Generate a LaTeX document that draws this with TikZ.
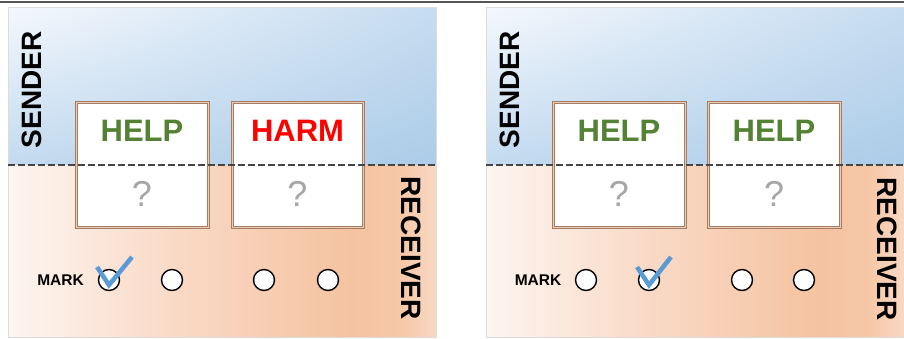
\documentclass[tikz,border=0pt]{standalone}
\usepackage{fontspec}
\setmainfont{Liberation Sans}
\usetikzlibrary{calc,shadings}
\definecolor{helpgreen}{HTML}{548235}
\definecolor{harmred}{HTML}{FF0000}
\definecolor{qgray}{HTML}{A6A6A6}
\definecolor{checkblue}{HTML}{5B9BD5}
\definecolor{boxbrown}{HTML}{A67C62}
\definecolor{boxinner}{HTML}{E9CDB8}
\definecolor{panelgray}{HTML}{DCDCDC}
\definecolor{topline}{HTML}{555555}
\definecolor{dashgray}{HTML}{454545}
\definecolor{bUL}{RGB}{244,248,253}
\definecolor{bUR}{RGB}{198,220,240}
\definecolor{bLL}{RGB}{195,218,239}
\definecolor{bLR}{RGB}{172,204,232}
\definecolor{o0}{RGB}{253,245,240}
\definecolor{o1}{RGB}{249,217,197}
\definecolor{o2}{RGB}{245,195,160}
\definecolor{o3}{RGB}{246,200,168}
\definecolor{o4}{RGB}{249,216,196}
\pgfdeclarehorizontalshading{recvshade}{100bp}{
  color(0bp)=(o0);
  color(25bp)=(o0);
  color(45bp)=(o1);
  color(65bp)=(o2);
  color(71bp)=(o3);
  color(75bp)=(o4);
  color(100bp)=(o4)}
\tikzset{
  panel/.style={draw=panelgray, line width=1pt},
  sendshade/.style={upper left=bUL, upper right=bUR, lower left=bLL, lower right=bLR},
  card/.style={draw=boxbrown, double=boxinner, double distance=1pt, line width=0.9pt, fill=white},
  word/.style={font=\bfseries\fontsize{31}{31}\selectfont, inner sep=0pt},
  qmark/.style={font=\fontsize{36}{36}\selectfont, text=qgray, inner sep=0pt},
  role/.style={font=\bfseries\fontsize{28}{28}\selectfont, inner sep=0pt},
  marklabel/.style={font=\bfseries\fontsize{15.5}{15.5}\selectfont, inner sep=0pt},
  choice/.style={circle, draw=black, fill=white, line width=1.4pt, minimum size=21pt, inner sep=0pt},
  divider/.style={dash pattern=on 7pt off 3pt, draw=dashgray, line width=2.6pt},
  tick/.style={draw=checkblue, line width=4.5pt, line join=miter, line cap=butt}
}
\begin{document}
\begin{tikzpicture}[x=1pt,y=-1pt]
\useasboundingbox (0,0) rectangle (904,338);
\fill[white] (0,0) rectangle (904,338);
% top rule
\coordinate (tl) at (0,2);
\coordinate (tr) at (904,2);
\draw[topline, line width=1.6pt] (tl) -- (tr);

% ---------- LEFT PANEL ----------
\shade[sendshade] (8,7) rectangle (436,165);
\shade[shading=recvshade] (8,165) rectangle (436,337);
\draw[panel] (8,7) rectangle (436,337);

\node[card, minimum width=132pt, minimum height=125pt, anchor=north west] (L1) at (76,102) {};
\node[card, minimum width=131pt, minimum height=125pt, anchor=north west] (L2) at (232,102) {};
\coordinate (Ldl) at (8,165);
\coordinate (Ldr) at (436,165);
\draw[divider] (Ldl) -- (Ldr);

\node[word, text=helpgreen] (L1t) at (142,131) {HELP};
\node[word, text=harmred] (L2t) at (297.5,131) {HARM};
\node[qmark] (L1q) at (142,194) {?};
\node[qmark] (L2q) at (297.5,194) {?};

\node[role, rotate=90] (Ls) at (32,90) {SENDER};
\node[role, rotate=-90] (Lr) at (411,248) {RECEIVER};

\node[marklabel] (Lm) at (60.5,280) {MARK};
\node[choice] (Lc1) at (109,280) {};
\node[choice] (Lc2) at (172,280) {};
\node[choice] (Lc3) at (264,280) {};
\node[choice] (Lc4) at (328,280) {};
\coordinate (Lk1) at (97,267);
\coordinate (Lk2) at (109,285);
\coordinate (Lk3) at (132,257);
\draw[tick] (Lk1) -- (Lk2) -- (Lk3);

% ---------- RIGHT PANEL ----------
\shade[sendshade] (486,7) rectangle (904,165);
\shade[shading=recvshade] (486,165) rectangle (904,337);
\draw[panel] (904,7) -- (486,7) -- (486,337) -- (904,337);

\node[card, minimum width=132pt, minimum height=125pt, anchor=north west] (R1) at (553,102) {};
\node[card, minimum width=132pt, minimum height=125pt, anchor=north west] (R2) at (708,102) {};
\coordinate (Rdl) at (486,165);
\coordinate (Rdr) at (904,165);
\draw[divider] (Rdl) -- (Rdr);

\node[word, text=helpgreen] (R1t) at (619,131) {HELP};
\node[word, text=helpgreen] (R2t) at (774,131) {HELP};
\node[qmark] (R1q) at (619,194) {?};
\node[qmark] (R2q) at (774,194) {?};

\node[role, rotate=90] (Rs) at (510,90) {SENDER};
\node[role, rotate=-90] (Rr) at (887,249) {RECEIVER};

\node[marklabel] (Rm) at (538,280) {MARK};
\node[choice] (Rc1) at (586,280) {};
\node[choice] (Rc2) at (649,280) {};
\node[choice] (Rc3) at (742,280) {};
\node[choice] (Rc4) at (804,280) {};
\coordinate (Rk1) at (637,267);
\coordinate (Rk2) at (649,285);
\coordinate (Rk3) at (671,257);
\draw[tick] (Rk1) -- (Rk2) -- (Rk3);
\end{tikzpicture}
\end{document}
